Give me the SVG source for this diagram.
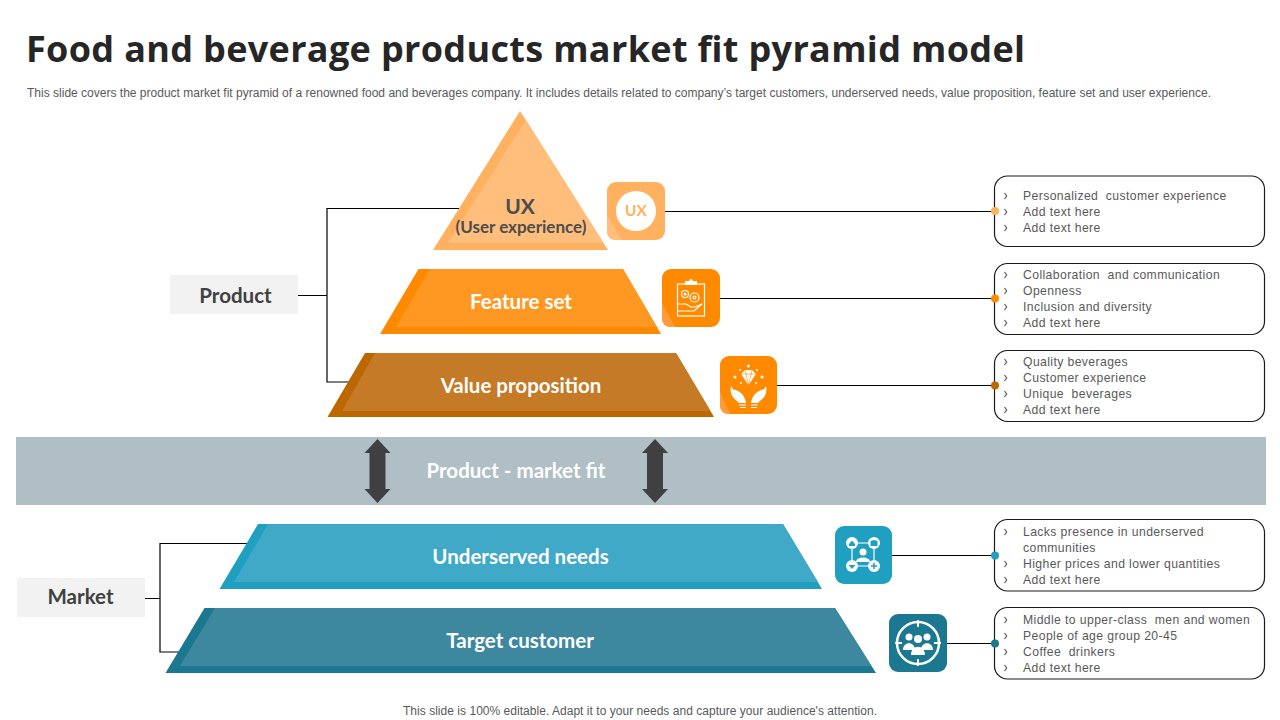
<svg xmlns="http://www.w3.org/2000/svg" width="1280" height="720" viewBox="0 0 1280 720">
<style>
text{font-family:"Lato","Open Sans",sans-serif}
.title{font-family:"Open Sans",sans-serif;font-size:36px;font-weight:700;fill:#262626}
.sub{font-family:"Liberation Sans",sans-serif;font-size:12px;fill:#595959}
.lbl{font-size:20.500px;font-weight:700;fill:#fff;text-anchor:middle}
.side{font-size:20.500px;font-weight:700;fill:#404040;text-anchor:middle}
.item{font-family:"Liberation Sans",sans-serif;font-size:12.200px;fill:#595959;letter-spacing:.4px;white-space:pre}
.box{fill:#fff;stroke:#1a1a1a;stroke-width:1.2}
.ln{fill:none;stroke:#000;stroke-width:1.2}
.ic{fill:none;stroke:#fff;stroke-width:1.2}
.icf{fill:#fff}
</style>
<defs>
<g id="arrow"><path d="M0 -32L13 -18H8V18H13L0 32L-13 18H-8V-18H-13Z" fill="#404040"/></g>
<g id="bul"><path d="M0 0L2.200 3L0 6" fill="none" stroke="#595959" stroke-width="1.200"/></g>
</defs>
<text class="title" x="26" y="62" textLength="999" lengthAdjust="spacing">Food and beverage products market fit pyramid model</text>
<text class="sub" x="27" y="97" textLength="1184" lengthAdjust="spacing">This slide covers the product market fit pyramid of a renowned food and beverages company. It includes details related to company’s target customers, underserved needs, value proposition, feature set and user experience.</text>

<rect id="band" x="16" y="437" width="1250" height="68" fill="#B0BEC5"/>
<g id="connectors">
<path class="ln" d="M298 295.500H327M459 208.500H327V382H350"/>
<path class="ln" d="M145 598.500H160M248 543.500H160V652H190"/>
<path class="ln" d="M665 211.500H995M720 298.500H995M777 385.500H995M892 555.500H995M947 643.500H995"/>
</g>

<g id="product"><rect x="170" y="275" width="128" height="39" fill="#F2F2F2"/><text class="side" x="235.500" y="303">Product</text></g>
<g id="market"><rect x="17" y="578" width="128" height="39" fill="#F2F2F2"/><text class="side" x="80.500" y="604">Market</text></g>

<g id="ux">
<path d="M520 111L608 250H433Z" fill="#FFB160"/>
<path d="M526 120L603.500 243H448Z" fill="#FFBE7B"/>
<text x="520" y="214" font-size="21" font-weight="700" fill="#4d4d4d" text-anchor="middle">UX</text>
<text x="521" y="233" font-size="17" font-weight="700" fill="#4d4d4d" text-anchor="middle">(User experience)</text>
</g>
<g id="feature-set">
<path d="M418.500 269H623L661 334H380Z" fill="#FF8A00"/>
<path d="M430 269H623L657 327H396Z" fill="#FF9822"/>
<text class="lbl" x="521" y="309">Feature set</text>
</g>
<g id="value-proposition">
<path d="M365 353H676L714 417H327.500Z" fill="#BD6700"/>
<path d="M375 353H676L710.500 411H342Z" fill="#C57A27"/>
<text class="lbl" x="521" y="393">Value proposition</text>
</g>
<g id="fit">
<text x="516" y="478" font-size="20.500" font-weight="700" fill="#fff" text-anchor="middle">Product - market fit</text>
<use href="#arrow" x="377.500" y="471"/>
<use href="#arrow" x="655" y="471"/>
</g>
<g id="underserved-needs">
<path d="M258 524H783L822 589H219.500Z" fill="#20A0C0"/>
<path d="M268 524H783L818 582H234Z" fill="#41A9C8"/>
<text class="lbl" x="520.500" y="564">Underserved needs</text>
</g>
<g id="target-customer">
<path d="M204.500 608H835L876 673H165.500Z" fill="#1C7890"/>
<path d="M215 608H835L871.500 666H180Z" fill="#3E889F"/>
<text class="lbl" x="520" y="648">Target customer</text>
</g>

<g id="icon-ux">
<rect x="607" y="182" width="58" height="58" rx="9" fill="#FFB160"/>
<path d="M607 215L622 240H616Q607 240 607 231Z" fill="#FFBE7B"/>
<circle cx="636" cy="211" r="20" fill="#fff"/>
<text x="636" y="216" font-size="15.500" font-weight="700" fill="#FFB160" text-anchor="middle">UX</text>
</g>
<g id="icon-feature">
<rect x="662" y="269" width="58" height="58" rx="9" fill="#FF8A00"/>
<path d="M662 303L675 327H671Q662 327 662 318Z" fill="#FF9C3A"/>
<rect x="677.500" y="284" width="27" height="32" class="ic"/>
<path class="icf" d="M685 285V281H689Q691 277 693 281H697V285Z"/>
<circle cx="685" cy="294" r="3.500" class="ic"/><circle cx="694.500" cy="297.500" r="4.500" class="ic"/><circle cx="694.500" cy="297.500" r="1.500" class="ic"/><circle cx="685" cy="294" r="1.500" class="icf"/>
<path class="ic" d="M678 304H686L691 307H695L702 304L694 311H678"/>
</g>
<g id="icon-value">
<rect x="720" y="356" width="57" height="58" rx="9" fill="#FF8A00"/>
<path d="M720 392L730 414H729Q720 414 720 405Z" fill="#FF9C3A"/>
<path class="icf" d="M741 374L745 370H752L756 374L748.500 385Z"/>
<path d="M741 374H756M745 370L748.500 385L752 370" fill="none" stroke="#FF8A00" stroke-width=".6"/>
<circle class="icf" cx="748.500" cy="366" r="1.500"/><circle class="icf" cx="735" cy="377" r="1.500"/><circle class="icf" cx="762" cy="377" r="1.500"/><circle class="icf" cx="740" cy="370" r="1"/><circle class="icf" cx="757" cy="370" r="1"/><circle class="icf" cx="741" cy="383" r="1"/><circle class="icf" cx="756" cy="383" r="1"/>
<path class="icf" d="M731 386C733 391 735 389 738 391C742 393 745 397 746 403H739C735 399 729 396 731 386ZM766 386C764 391 762 389 759 391C755 393 752 397 751 403H758C762 399 768 396 766 386Z"/>
<path class="ic" d="M739 405H746M751 405H758M740 407.500H746M751 407.500H757"/>
</g>
<g id="icon-needs">
<rect x="835" y="526" width="57" height="58" rx="9" fill="#20A0C0"/>
<path class="ic" d="M852 543H874V566H852Z"/>
<circle class="icf" cx="852" cy="543" r="6"/><circle class="icf" cx="874" cy="543" r="6"/><circle class="icf" cx="852" cy="566" r="6"/><circle class="icf" cx="874" cy="566" r="6"/>
<circle class="icf" cx="863" cy="552" r="3.500"/><path class="icf" d="M856 562C856 556 870 556 870 562Z"/>
<path d="M871 566H877M874 563V569" stroke="#20A0C0" stroke-width="1.500"/>
<path d="M849 544L852 540.500L855 544V546H849ZM870.500 541L874 540L877.500 541V546H870.500ZM848.500 565H855.500L852 569Z" fill="#20A0C0"/>
</g>
<g id="icon-customer">
<rect x="889" y="614" width="58" height="58" rx="9" fill="#1C7890"/>
<circle cx="918" cy="643" r="21" fill="none" stroke="#fff" stroke-width="2.500"/>
<path d="M918 620V627M918 659V666M895 643H902M934 643H941" stroke="#fff" stroke-width="2"/>
<circle class="icf" cx="909" cy="637" r="3.500"/><circle class="icf" cx="927" cy="637" r="3.500"/><circle class="icf" cx="918" cy="639" r="4"/>
<path class="icf" d="M903 650C903 641 915 641 915 650ZM921 650C921 641 933 641 933 650ZM911 655C911 644 925 644 925 655Z"/>
</g>

<g id="list-ux">
<rect class="box" x="994.500" y="176" width="270" height="70.500" rx="13"/>
<circle cx="995" cy="211" r="4" fill="#FFB160"/>
<use href="#bul" x="1004.500" y="193"/><use href="#bul" x="1004.500" y="209"/><use href="#bul" x="1004.500" y="225"/>
<text class="item" x="1023" y="200">Personalized  customer experience</text>
<text class="item" x="1023" y="216">Add text here</text>
<text class="item" x="1023" y="232">Add text here</text>
</g>
<g id="list-feature">
<rect class="box" x="994.500" y="263.500" width="270" height="71" rx="13"/>
<circle cx="995" cy="298.500" r="4" fill="#FF8A00"/>
<use href="#bul" x="1004.500" y="272"/><use href="#bul" x="1004.500" y="288"/><use href="#bul" x="1004.500" y="304"/><use href="#bul" x="1004.500" y="320"/>
<text class="item" x="1023" y="279">Collaboration  and communication</text>
<text class="item" x="1023" y="295">Openness</text>
<text class="item" x="1023" y="311">Inclusion and diversity</text>
<text class="item" x="1023" y="327">Add text here</text>
</g>
<g id="list-value">
<rect class="box" x="994.500" y="350.500" width="270" height="71" rx="13"/>
<circle cx="995" cy="385.500" r="4" fill="#BD6700"/>
<use href="#bul" x="1004.500" y="359"/><use href="#bul" x="1004.500" y="375"/><use href="#bul" x="1004.500" y="391"/><use href="#bul" x="1004.500" y="407"/>
<text class="item" x="1023" y="366">Quality beverages</text>
<text class="item" x="1023" y="382">Customer experience</text>
<text class="item" x="1023" y="398">Unique  beverages</text>
<text class="item" x="1023" y="414">Add text here</text>
</g>
<g id="list-needs">
<rect class="box" x="994.500" y="519.500" width="270" height="71.500" rx="13"/>
<circle cx="995" cy="555.500" r="4" fill="#20A0C0"/>
<use href="#bul" x="1004.500" y="529"/><use href="#bul" x="1004.500" y="561"/><use href="#bul" x="1004.500" y="577"/>
<text class="item" x="1023" y="536">Lacks presence in underserved</text>
<text class="item" x="1023" y="552">communities</text>
<text class="item" x="1023" y="568">Higher prices and lower quantities</text>
<text class="item" x="1023" y="584">Add text here</text>
</g>
<g id="list-customer">
<rect class="box" x="994.500" y="607.500" width="270" height="71.500" rx="13"/>
<circle cx="995" cy="643.500" r="4" fill="#1C7890"/>
<use href="#bul" x="1004.500" y="617"/><use href="#bul" x="1004.500" y="633"/><use href="#bul" x="1004.500" y="649"/><use href="#bul" x="1004.500" y="665"/>
<text class="item" x="1023" y="624">Middle to upper-class  men and women</text>
<text class="item" x="1023" y="640">People of age group 20-45</text>
<text class="item" x="1023" y="656">Coffee  drinkers</text>
<text class="item" x="1023" y="672">Add text here</text>
</g>
<text class="sub" x="403" y="715" textLength="474" lengthAdjust="spacing">This slide is 100% editable. Adapt it to your needs and capture your audience's attention.</text>
</svg>
